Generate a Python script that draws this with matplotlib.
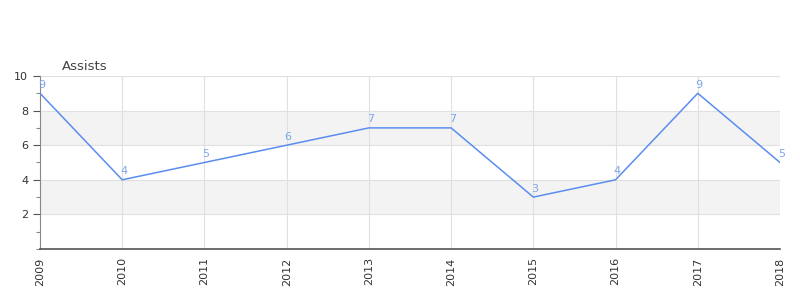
import matplotlib
matplotlib.use("Agg")
import matplotlib.pyplot as plt
from matplotlib.ticker import MultipleLocator

years = [2009, 2010, 2011, 2012, 2013, 2014, 2015, 2016, 2017, 2018]
assists = [9, 4, 5, 6, 7, 7, 3, 4, 9, 5]
year_labels = [str(y) for y in years]

fig = plt.figure(figsize=(8, 3), dpi=100)
ax = fig.add_axes([0.05, 0.17, 0.925, 0.5767])

# bands
for lo, hi in [(2, 4), (6, 8)]:
    ax.axhspan(lo, hi, color="#f3f3f3", zorder=0, lw=0)
for y in [2, 4, 6, 8, 10]:
    ax.axhline(y, color="#e0e0e0", lw=0.8, zorder=1)
for x in years:
    ax.axvline(x, color="#e0e0e0", lw=0.8, zorder=1)

ax.plot(years, assists, color="#5b8def", lw=1.1, zorder=3)
for x, v in zip(years, assists):
    ax.annotate(str(v), (x, v), xytext=(1, 2.5), textcoords="offset points",
                ha="center", va="bottom", fontsize=8, color="#7fa6ec", zorder=4)

ax.axhline(0, color="#cc0000", lw=0.8, zorder=2)

ax.set_xlim(years[0], years[-1])
ax.set_ylim(0, 10)
ax.set_xticks(years)
ax.set_xticklabels(year_labels, rotation=90, fontsize=8, color="#333333")
ax.set_yticks([2, 4, 6, 8, 10])
ax.yaxis.set_minor_locator(MultipleLocator(1))
ax.tick_params(axis="y", which="major", labelsize=8, colors="#555555", length=5, width=0.8, labelcolor="#333333")
ax.tick_params(axis="y", which="minor", length=3, width=0.8, colors="#888888")
ax.tick_params(axis="x", length=0, pad=6)

for s in ["top", "right"]:
    ax.spines[s].set_visible(False)
ax.spines["left"].set_color("#888888")
ax.spines["left"].set_linewidth(0.8)
ax.spines["bottom"].set_color("#555555")
ax.spines["bottom"].set_linewidth(1.2)

fig.text(62 / 800, 1 - 66 / 300, "Assists", fontsize=9.5, color="#444444", ha="left", va="center")

fig.savefig("out.png", dpi=100)
